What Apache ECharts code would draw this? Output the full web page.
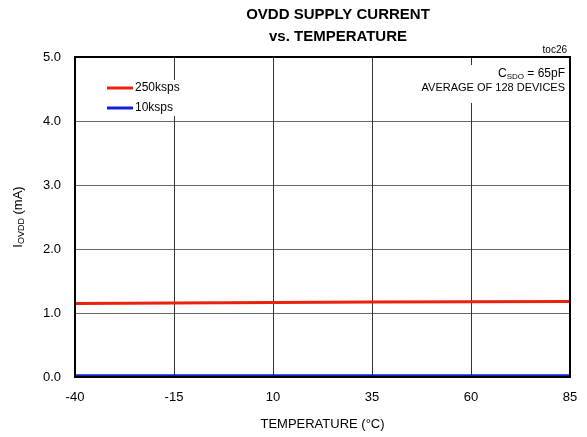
<!DOCTYPE html>
<html><head><meta charset="utf-8">
<script src="https://cdn.jsdelivr.net/npm/echarts@6/dist/echarts.min.js"></script>
<style>html,body{margin:0;padding:0;background:#fff}#c{width:587px;height:437px}</style>
</head><body><div id="c"></div>
<script>
const temps = [-40, -15, 10, 35, 60, 85];
const current250k = [1.15, 1.157, 1.163, 1.17, 1.175, 1.18];
const current10k = [0.02, 0.02, 0.02, 0.02, 0.02, 0.02];
const xTicks = [-40, -15, 10, 35, 60, 85];
const F = "'Liberation Sans',Arial,sans-serif";

const chart = echarts.init(document.getElementById('c'), null, {renderer:'canvas'});
chart.setOption({
  animation:false,
  backgroundColor:'#fff',
  title:{
    text:'OVDD SUPPLY CURRENT\nvs. TEMPERATURE',
    left:338, textAlign:'center', top:4, padding:0,
    textStyle:{fontFamily:F, fontSize:15, fontWeight:'bold', color:'#000', lineHeight:22}
  },
  legend:{
    orient:'vertical', left:105, top:80, itemGap:8,
    itemWidth:26, itemHeight:3, icon:'rect',
    backgroundColor:'#fff', padding:[2,4,2,2],
    textStyle:{fontFamily:F, fontSize:12, color:'#000', padding:[0,0,0,-3]},
    data:['250ksps','10ksps']
  },
  grid:{left:75, right:17, top:57, bottom:60, outerBoundsMode:'none', containLabel:false},
  xAxis:{
    type:'value', min:-40, max:85,
    name:'TEMPERATURE (°C)', nameLocation:'middle', nameGap:41,
    nameTextStyle:{fontFamily:F, fontSize:13, color:'#000'},
    axisLine:{show:true, onZero:false, lineStyle:{color:'#000', width:2}},
    axisTick:{show:false, customValues:xTicks},
    axisLabel:{customValues:xTicks, fontFamily:F, fontSize:13, color:'#000', margin:14},
    splitLine:{show:true, lineStyle:{color:'#333', width:1}}
  },
  yAxis:{
    type:'value', min:0, max:5, interval:1,
    name:'{a|I}{s|OVDD}{a| (mA)}', nameLocation:'middle', nameGap:49, nameRotate:90,
    nameTextStyle:{rich:{a:{fontFamily:F, fontSize:13, color:'#000'}, s:{fontFamily:F, fontSize:9, color:'#000', verticalAlign:'bottom', padding:[6,0,0,0]}}},
    axisLine:{show:true, onZero:false, lineStyle:{color:'#000', width:2}},
    axisTick:{show:false},
    axisLabel:{fontFamily:F, fontSize:13, color:'#000', margin:14, formatter:v=>v.toFixed(1)},
    splitLine:{show:true, lineStyle:{color:'#666', width:1}}
  },
  graphic:[
    {type:'rect', shape:{x:75, y:57, width:495, height:320}, style:{fill:'none', stroke:'#000', lineWidth:2}, z:100, silent:true},
    {type:'text', right:20, top:45, style:{text:'toc26', fontFamily:F, fontSize:10, fill:'#000'}},
    {type:'text', right:20, top:65, z:50, style:{
      text:'{a|C}{s|SDO}{a| = 65pF}\n{b|AVERAGE OF 128 DEVICES}', align:'right',
      backgroundColor:'#fff', padding:[2,2,8,4],
      rich:{a:{fontFamily:F, fontSize:12, fill:'#000', lineHeight:14, align:'right'}, s:{fontFamily:F, fontSize:8, fill:'#000', verticalAlign:'bottom', padding:[5,0,0,0], align:'right'}, b:{fontFamily:F, fontSize:11, fill:'#000', lineHeight:14, align:'right'}}
    }}
  ],
  series:[
    {name:'250ksps', type:'line', data:temps.map((t,i)=>[t,current250k[i]]), showSymbol:false, lineStyle:{color:'#e8220f', width:3}, itemStyle:{color:'#e8220f'}, z:5},
    {name:'10ksps', type:'line', data:temps.map((t,i)=>[t,current10k[i]]), showSymbol:false, lineStyle:{color:'#1020d8', width:3}, itemStyle:{color:'#1020d8'}, z:5}
  ]
});
</script></body></html>
